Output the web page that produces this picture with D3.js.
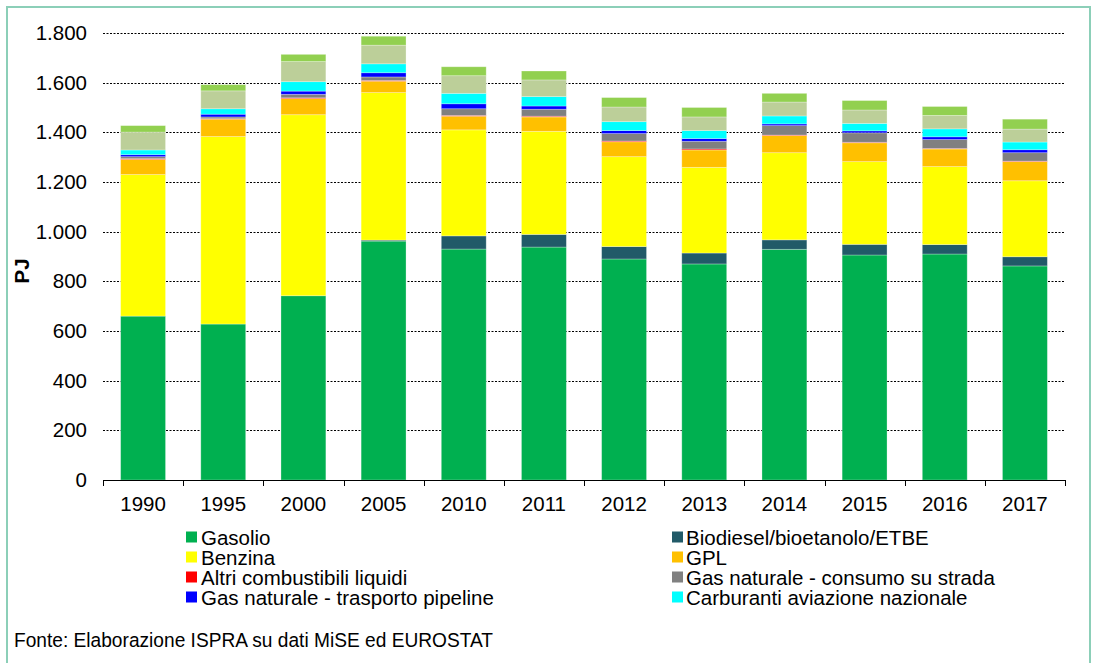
<!DOCTYPE html>
<html>
<head>
<meta charset="utf-8">
<script src="https://cdn.jsdelivr.net/npm/d3@7/dist/d3.min.js"></script>
<style>
  html, body { margin: 0; padding: 0; background: #fff; }
  svg { display: block; }
  text { font-family: "Liberation Sans", Arial, sans-serif; fill: #000; }
</style>
</head>
<body>
<svg id="chart" width="1093" height="663"></svg>
<script>
// ---- data ----
const years = ["1990","1995","2000","2005","2010","2011","2012","2013","2014","2015","2016","2017"];
const gasolio   = [660, 628, 742, 962, 930, 938, 890, 870, 929, 906, 910, 862];
const biodiesel = [0, 0, 0, 4, 53, 51, 50, 44, 38, 43, 38, 37];
const benzina   = [570, 755, 729, 594, 427, 415, 362, 345, 351, 333, 314, 306];
const gpl       = [61, 70, 65, 46, 55, 58, 60, 70, 69, 76, 71, 77];
const altri     = [3, 2, 3, 3, 3, 3, 3, 4, 2, 2, 2, 2];
const gasStrada = [8, 7, 14, 14, 27, 28, 30, 31, 38, 38, 36, 34];
const pipeline  = [8, 11, 13, 17, 20, 13, 12, 11, 7, 8, 11, 12];
const aviazione = [19, 22, 38, 36, 42, 38, 36, 32, 32, 30, 32, 31];
const altro1    = [72, 72, 81, 75, 71, 67, 59, 55, 56, 54, 54, 52];
const altro2    = [26, 25, 29, 36, 36, 36, 38, 38, 35, 38, 36, 40];
const yTicks = [0, 200, 400, 600, 800, 1000, 1200, 1400, 1600, 1800];

const seriesNames = ["Gasolio","Biodiesel/bioetanolo/ETBE","Benzina","GPL","Altri combustibili liquidi",
  "Gas naturale - consumo su strada","Gas naturale - trasporto pipeline","Carburanti aviazione nazionale","altro1","altro2"];
const seriesValues = [gasolio, biodiesel, benzina, gpl, altri, gasStrada, pipeline, aviazione, altro1, altro2];
const seriesColors = ["#00b050","#215a68","#ffff00","#ffc000","#ff0000","#808080","#0000ff","#00ffff","#bccf99","#92d050"];

// legend: two columns, 4 rows (order as in reference)
const legendCol1 = [0, 2, 4, 6];
const legendCol2 = [1, 3, 5, 7];

// ---- build ----
const svg = d3.select("#chart");
const FS = 20.5;

// outer frame
svg.append("path")
  .attr("d", "M7,663 L7,7 L1090,7 L1090,663")
  .attr("fill", "none").attr("stroke", "#8ccfb8").attr("stroke-width", 2);

const mLeft = 103, mRight = 1065, mTop = 33, mBottom = 480;

const x = d3.scaleBand().domain(years).range([mLeft, mRight]).paddingInner(0.44).paddingOuter(0.22);
const y = d3.scaleLinear().domain([0, 1800]).range([mBottom, mTop]);

// gridlines
svg.append("g").selectAll("line").data(yTicks.filter(d => d > 0)).join("line")
  .attr("x1", mLeft).attr("x2", mRight)
  .attr("y1", d => Math.round(y(d)) + 0.5).attr("y2", d => Math.round(y(d)) + 0.5)
  .attr("stroke", "#000").attr("stroke-width", 1).attr("stroke-dasharray", "2,1.5");

// stacked data
const table = years.map((yr, i) => {
  const o = { year: yr };
  seriesNames.forEach((n, k) => { o[n] = seriesValues[k][i]; });
  return o;
});
const stack = d3.stack().keys(seriesNames)(table);

svg.append("g").selectAll("g").data(stack).join("g")
  .attr("fill", (d, i) => seriesColors[i])
  .selectAll("rect").data(d => d).join("rect")
  .attr("x", d => x(d.data.year))
  .attr("width", x.bandwidth())
  .attr("y", d => y(d[1]))
  .attr("height", d => Math.max(0, y(d[0]) - y(d[1])))
  .attr("stroke", "#ffffff").attr("stroke-opacity", 0.35).attr("stroke-width", 0.8);

// y axis labels
svg.append("g").selectAll("text").data(yTicks).join("text")
  .attr("x", 87).attr("y", d => y(d) + 7)
  .attr("text-anchor", "end").attr("font-size", FS)
  .text(d => d3.format(",")(d).replace(/,/g, "."));

// x axis baseline
const xAxis = d3.axisBottom(x).tickSize(0).tickFormat("");
const gx = svg.append("g").attr("transform", `translate(0,${mBottom + 0.5})`).call(xAxis);
gx.select(".domain").attr("stroke", "#000").attr("d", `M${mLeft},0H${mRight}`);

// category boundary tick marks
const bounds = d3.range(years.length + 1).map(i => mLeft + i * (mRight - mLeft) / years.length);
svg.append("g").selectAll("line").data(bounds).join("line")
  .attr("x1", d => Math.round(d) + 0.5).attr("x2", d => Math.round(d) + 0.5)
  .attr("y1", mBottom).attr("y2", mBottom + 6)
  .attr("stroke", "#000");

// x labels
svg.append("g").selectAll("text").data(years).join("text")
  .attr("x", d => x(d) + x.bandwidth() / 2).attr("y", 510.5)
  .attr("text-anchor", "middle").attr("font-size", FS)
  .text(d => d);

// y title
svg.append("text")
  .attr("transform", "translate(29,271) rotate(-90)")
  .attr("text-anchor", "middle").attr("font-size", FS).attr("font-weight", "bold")
  .text("PJ");

// legend
function drawLegend(idxs, sx, tx) {
  const g = svg.append("g");
  idxs.forEach((k, r) => {
    const cy = 537 + r * 20;
    g.append("rect").attr("x", sx).attr("y", cy - 5.5).attr("width", 11).attr("height", 11)
      .attr("fill", seriesColors[k]);
    g.append("text").attr("x", tx).attr("y", cy + 7.5).attr("font-size", FS).text(seriesNames[k]);
  });
}
drawLegend(legendCol1, 186, 201);
drawLegend(legendCol2, 672, 686);

// source
svg.append("text")
  .attr("x", 14).attr("y", 647).attr("font-size", FS)
  .attr("textLength", 479).attr("lengthAdjust", "spacingAndGlyphs")
  .text("Fonte: Elaborazione ISPRA su dati MiSE ed EUROSTAT");
</script>
</body>
</html>
